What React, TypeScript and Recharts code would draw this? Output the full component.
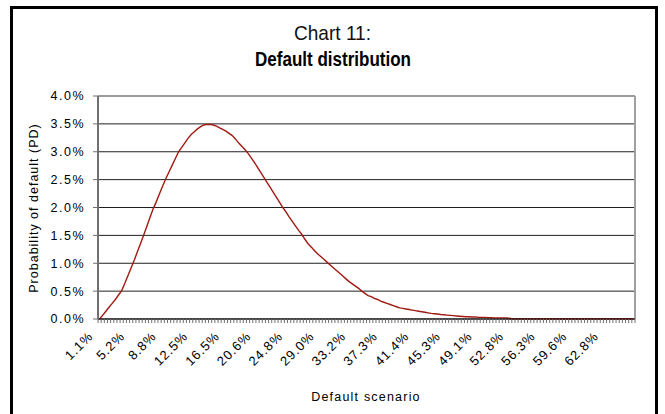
import { LineChart, Line, XAxis, YAxis, CartesianGrid, ReferenceLine } from "recharts";

const tickLabels = [
  "1.1%", "5.2%", "8.8%", "12.5%", "16.5%", "20.6%", "24.8%", "29.0%", "33.2%",
  "37.3%", "41.4%", "45.3%", "49.1%", "52.8%", "56.3%", "59.6%", "62.8%",
];

// probability of default, in %, one value per default scenario
const pdValues = [
  0.0, 0.07, 0.14, 0.21, 0.28, 0.35, 0.43, 0.51, 0.64, 0.78,
  0.92, 1.06, 1.21, 1.36, 1.51, 1.67, 1.83, 1.98, 2.11, 2.25,
  2.39, 2.52, 2.64, 2.76, 2.88, 3.0, 3.08, 3.16, 3.24, 3.31,
  3.36, 3.41, 3.45, 3.48, 3.49, 3.49, 3.48, 3.46, 3.43, 3.4,
  3.37, 3.33, 3.29, 3.23, 3.16, 3.1, 3.04, 2.97, 2.89, 2.81,
  2.72, 2.63, 2.54, 2.45, 2.36, 2.27, 2.18, 2.09, 2.0, 1.92,
  1.83, 1.75, 1.67, 1.59, 1.52, 1.43, 1.35, 1.29, 1.23, 1.17,
  1.12, 1.07, 1.02, 0.97, 0.92, 0.87, 0.82, 0.77, 0.72, 0.67,
  0.63, 0.59, 0.55, 0.5, 0.46, 0.42, 0.4, 0.37, 0.35, 0.32,
  0.3, 0.28, 0.26, 0.24, 0.22, 0.2, 0.19, 0.18, 0.17, 0.16,
  0.15, 0.14, 0.13, 0.12, 0.11, 0.1, 0.095, 0.09, 0.08, 0.075,
  0.07, 0.065, 0.06, 0.055, 0.05, 0.045, 0.04, 0.04, 0.035, 0.035,
  0.03, 0.03, 0.03, 0.025, 0.025, 0.02, 0.02, 0.02, 0.02, 0.02,
  0.01, 0.0, 0.0, 0.0, 0.0, 0.0, 0.0, 0.0, 0.0, 0.0,
  0.0, 0.0, 0.0, 0.0, 0.0, 0.0, 0.0, 0.0, 0.0, 0.0,
  0.0, 0.0, 0.0, 0.0, 0.0, 0.0, 0.0, 0.0, 0.0, 0.0,
  0.0, 0.0, 0.0, 0.0, 0.0, 0.0, 0.0, 0.0, 0.0, 0.0,
];

const yTicks = [0, 0.5, 1, 1.5, 2, 2.5, 3, 3.5, 4];

const data = pdValues.map((pd, idx) => ({ idx, pd }));
// tick marks sit on the boundaries between scenarios
const boundaries = [...pdValues.map((_, i) => i - 0.5), pdValues.length - 0.5];
const lastIdx = pdValues.length - 0.5;

const font = "'Liberation Sans', Arial, sans-serif";

function ScenarioTick({ x, y, payload }: any) {
  const i = payload.value + 0.5;
  if (i % 10 !== 0) return null;
  const label = tickLabels[i / 10];
  if (!label) return null;
  const ax = x - 4;
  const ay = y + 12;
  return (
    <text
      x={ax}
      y={ay}
      transform={`rotate(-45 ${ax} ${ay})`}
      textAnchor="end"
      fontSize={13}
      letterSpacing={1}
      fill="#000"
      fontFamily={font}
    >
      {label}
    </text>
  );
}

export default function App() {
  return (
    <div style={{ position: "absolute", left: 0, top: 0, width: 665, height: 414, background: "#fff", overflow: "hidden" }}>
      <div
        style={{
          position: "absolute",
          left: 10,
          top: 6,
          width: 648,
          height: 430,
          border: "3px solid #000",
          boxSizing: "border-box",
        }}
      />
      <LineChart width={665} height={414} data={data} margin={{ top: 96, right: 30, left: 0, bottom: 0 }}>
        <CartesianGrid horizontal vertical={false} stroke="#202020" strokeWidth={1} />
        <XAxis
          dataKey="idx"
          type="number"
          domain={[-0.5, lastIdx]}
          ticks={boundaries}
          interval={0}
          height={95}
          tick={<ScenarioTick />}
          tickSize={4}
          tickLine={{ stroke: "#707070" }}
          axisLine={{ stroke: "#000" }}
        />
        <YAxis
          domain={[0, 4]}
          ticks={yTicks}
          interval={0}
          width={98}
          tickFormatter={(v: number) => v.toFixed(1) + "%"}
          tick={{ fontSize: 12.5, fill: "#000", fontFamily: font, letterSpacing: 1.5 }}
          tickSize={5}
          tickMargin={8}
          tickLine={{ stroke: "#707070" }}
          axisLine={{ stroke: "#707070", strokeWidth: 2 }}
        />
        <ReferenceLine y={4} stroke="#a0a0a0" strokeWidth={1.5} />
        <ReferenceLine x={lastIdx} stroke="#a0a0a0" strokeWidth={2} />
        <Line
          type="linear"
          dataKey="pd"
          stroke="#a01a12"
          strokeWidth={1.4}
          dot={false}
          isAnimationActive={false}
        />
      </LineChart>
      <svg width={665} height={414} style={{ position: "absolute", left: 0, top: 0, pointerEvents: "none" }}>
        <text
          x={294}
          y={40}
          fontSize={21}
          fontFamily={font}
          textLength={77}
          lengthAdjust="spacingAndGlyphs"
          fill="#111"
        >
          Chart 11:
        </text>
        <text
          x={255}
          y={66}
          fontSize={20}
          fontWeight="bold"
          fontFamily={font}
          textLength={156}
          lengthAdjust="spacingAndGlyphs"
          fill="#000"
        >
          Default distribution
        </text>
        <text
          x={0}
          y={0}
          transform="translate(38 208) rotate(-90)"
          textAnchor="middle"
          fontSize={12.5}
          letterSpacing={1}
          fontFamily={font}
          fill="#000"
        >
          Probability of default (PD)
        </text>
        <text x={366} y={401} textAnchor="middle" fontSize={12.5} letterSpacing={1.2} fontFamily={font} fill="#000">
          Default scenario
        </text>
      </svg>
    </div>
  );
}
